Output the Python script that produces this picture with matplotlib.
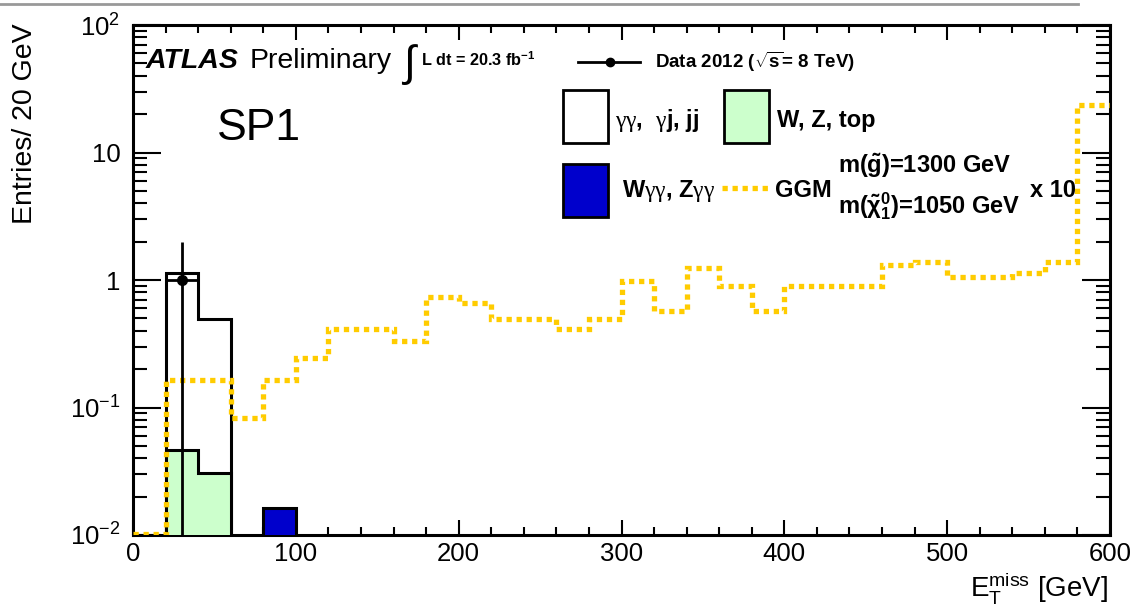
import numpy as np
import matplotlib
matplotlib.use("Agg")
import matplotlib.pyplot as plt
from matplotlib.patches import Rectangle
from matplotlib.lines import Line2D
from matplotlib.ticker import FixedLocator, FixedFormatter, LogLocator, NullFormatter, MultipleLocator

plt.rcParams['font.family'] = ['Liberation Sans', 'DejaVu Sans']
plt.rcParams['mathtext.fontset'] = 'custom'
plt.rcParams['mathtext.rm'] = 'Liberation Sans'
plt.rcParams['mathtext.it'] = 'Liberation Sans:italic'
plt.rcParams['mathtext.bf'] = 'Liberation Sans:bold'
plt.rcParams['mathtext.sf'] = 'Liberation Serif'   # thin greek letters like ROOT's Symbol font
plt.rcParams['mathtext.default'] = 'regular'

# binning: 20 GeV bins from 0 to 600
bin_edges = np.arange(0, 620, 20)

# GGM signal (x 10), one value per 20 GeV bin
ggm = [0.0101, 0.164, 0.164, 0.083, 0.164, 0.245, 0.41, 0.41, 0.33, 0.74,
       0.656, 0.49, 0.49, 0.41, 0.49, 0.99, 0.575, 1.24, 0.90, 0.575,
       0.90, 0.90, 0.90, 1.31, 1.39, 1.06, 1.06, 1.14, 1.39, 23.6]

# backgrounds (only non-empty bins)
bkg_edges = [20, 40, 60]
bkg_total = [1.13, 0.495]      # gg, gj, jj stacked on W, Z, top
wztop = [0.0465, 0.0305]
wgg_edges = [80, 100]
wgg = [0.0164]

# data
data_x = [30]
data_y = [1.0]
data_err = [1.0]

yellow = '#ffcc00'
green = '#ccffcc'
blue = '#0000cc'

W, H = 1130, 605
fig = plt.figure(figsize=(W / 100, H / 100), dpi=100)
ax = fig.add_axes([133 / W, 1 - 535 / H, (1110 - 133) / W, (535 - 25) / H])

def fx(px):
    return px / W

def fy(py):
    return 1 - py / H

ax.set_yscale('log')
ax.set_xlim(0, 600)
ax.set_ylim(0.01, 100)

ax.stairs(bkg_total, bkg_edges, baseline=1e-3, fill=True, facecolor='white', zorder=2)
ax.stairs(bkg_total, bkg_edges, baseline=1e-3, color='black', linewidth=2.2, zorder=3)
ax.stairs(wztop, bkg_edges, baseline=1e-3, fill=True, facecolor=green, zorder=3)
ax.stairs(wztop, bkg_edges, baseline=1e-3, color='black', linewidth=2.2, zorder=3)
ax.stairs(wgg, wgg_edges, baseline=1e-3, fill=True, facecolor=blue, zorder=3)
ax.stairs(wgg, wgg_edges, baseline=1e-3, color='black', linewidth=2.2, zorder=3)

ax.stairs(ggm, bin_edges, baseline=None, color=yellow, linewidth=3.8,
          linestyle=(0, (1, 0.9)), zorder=4)

ax.errorbar(data_x, data_y, yerr=[[0.9999], data_err], xerr=10, fmt='o', color='black',
            markersize=7, elinewidth=2, capsize=0, zorder=5)

# axes style (ROOT-like)
for s in ax.spines.values():
    s.set_linewidth(2.2)
ax.xaxis.set_major_locator(MultipleLocator(100))
ax.xaxis.set_minor_locator(MultipleLocator(20))
ax.yaxis.set_major_locator(FixedLocator([0.01, 0.1, 1, 10, 100]))
ax.yaxis.set_major_formatter(FixedFormatter(['$10^{-2}$', '$10^{-1}$', '1', '10', '$10^{2}$']))
ax.yaxis.set_minor_locator(LogLocator(base=10, subs=np.arange(2, 10)))
ax.yaxis.set_minor_formatter(NullFormatter())
ax.tick_params(axis='both', which='both', direction='in', top=True, right=True,
               labelsize=18.5, width=1.5)
ax.tick_params(axis='x', which='major', length=11, pad=5)
ax.tick_params(axis='x', which='minor', length=6)
ax.tick_params(axis='y', which='major', length=20, pad=9)
ax.tick_params(axis='y', which='minor', length=10)

# axis titles
fig.text(fx(25), fy(23), 'Entries/ 20 GeV', rotation=90, ha='center', va='top', fontsize=20.5)
fig.text(fx(1108), fy(596), r'E$_{\rm T}^{\rm miss}$ [GeV]', ha='right', va='baseline', fontsize=20)

# labels
fig.text(fx(146), fy(68), 'ATLAS', fontsize=20.5, fontweight='bold', fontstyle='italic', va='baseline')
fig.text(fx(250), fy(68), 'Preliminary', fontsize=20.5, va='baseline')
fig.text(fx(401), fy(76), r'$\int$', fontsize=31, va='baseline')
fig.text(fx(421), fy(66), r'L dt = 20.3 fb$^{-1}$', fontsize=11.7, fontweight='bold', va='baseline')
fig.text(fx(217), fy(140), 'SP1', fontsize=32, va='baseline')

# legend
fig.add_artist(Line2D([fx(578), fx(640)], [fy(62), fy(62)], color='black', lw=2))
fig.add_artist(Line2D([fx(610)], [fy(62)], color='black', marker='o', markersize=6))
fig.text(fx(655), fy(68), r'Data 2012 ($\sqrt{s}$= 8 TeV)', fontsize=13.5, fontweight='bold', va='baseline')

fig.add_artist(Rectangle((fx(563), fy(143)), fx(45), 53 / H, facecolor='white',
                         edgecolor='black', lw=2, transform=fig.transFigure))
fig.text(fx(615), fy(127), r'$\mathsf{\gamma\gamma}$,  $\mathsf{\gamma}$j, jj', fontsize=17,
         fontweight='bold', va='baseline')
fig.add_artist(Rectangle((fx(724), fy(143)), fx(45), 53 / H, facecolor=green,
                         edgecolor='black', lw=2, transform=fig.transFigure))
fig.text(fx(777), fy(127), 'W, Z, top', fontsize=17, fontweight='bold', va='baseline')
fig.add_artist(Rectangle((fx(563), fy(217)), fx(45), 53 / H, facecolor=blue,
                         edgecolor='black', lw=2, transform=fig.transFigure))
fig.text(fx(622), fy(197), r'W$\mathsf{\gamma\gamma}$, Z$\mathsf{\gamma\gamma}$', fontsize=17,
         fontweight='bold', va='baseline')
fig.add_artist(Line2D([fx(722), fx(768)], [fy(188), fy(188)], color=yellow, lw=3.8,
                      linestyle=(0, (1, 0.9))))
fig.text(fx(775), fy(197), 'GGM', fontsize=17, fontweight='bold', va='baseline')
fig.text(fx(838), fy(173), r'm($\tilde{g}$)=1300 GeV', fontsize=17, fontweight='bold', va='baseline')
fig.text(fx(838), fy(213), r'm($\tilde{\chi}^{0}_{1}$)=1050 GeV', fontsize=17, fontweight='bold', va='baseline')
fig.text(fx(1030), fy(197), 'x 10', fontsize=17, fontweight='bold', va='baseline')

# grey rule at the top of the page
fig.add_artist(Line2D([0, fx(1078)], [fy(4), fy(4)], color='#999999', lw=2))

fig.savefig('out.png', dpi=100)
